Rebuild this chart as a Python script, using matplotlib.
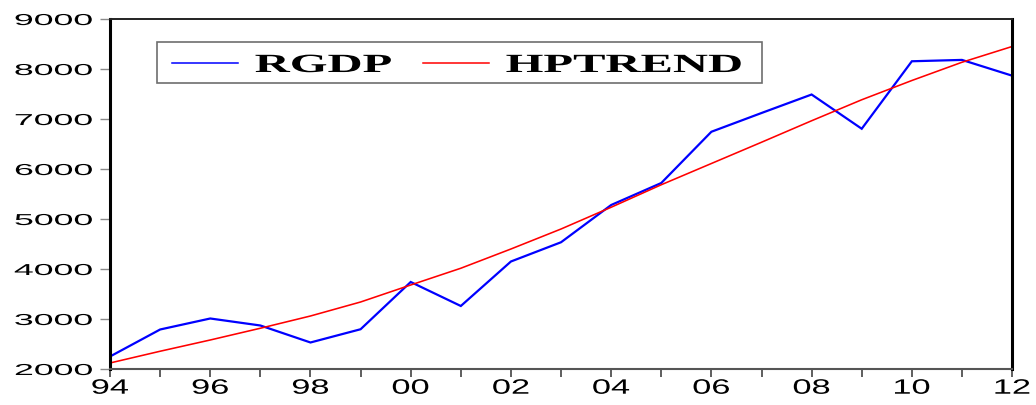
import matplotlib
matplotlib.use("Agg")
import matplotlib.pyplot as plt
from matplotlib.patheffects import AbstractPathEffect
from matplotlib.patches import Rectangle
from matplotlib.lines import Line2D
from matplotlib.path import Path
from matplotlib.transforms import Affine2D

# Real GDP and its Hodrick-Prescott trend, 1994-2012
years = list(range(1994, 2013))
rgdp = [2250, 2790, 3010, 2870, 2530, 2795, 3740, 3260, 4150, 4535,
        5280, 5720, 6745, 7120, 7490, 6805, 8155, 8182, 7867]
hptrend = [2120, 2355, 2580, 2815, 3060, 3340, 3680, 4015, 4400, 4800,
           5235, 5685, 6110, 6535, 6965, 7385, 7770, 8135, 8450]

year_ticks = list(range(1994, 2013, 2))
year_labels = [f"{y % 100:02d}" for y in year_ticks]
odd_years = list(range(1995, 2012, 2))
y_ticks = list(range(2000, 9001, 1000))
series_names = ["RGDP", "HPTREND"]


class Stretch(AbstractPathEffect):
    """Widen glyphs horizontally around the left, centre or right of the text."""

    def __init__(self, sx, anchor="left"):
        super().__init__()
        self.sx = sx
        self.anchor = anchor

    def draw_path(self, renderer, gc, tpath, affine, rgbFace=None):
        v = tpath.vertices
        if tpath.codes is not None:
            v = v[tpath.codes != Path.CLOSEPOLY]
        x0, x1 = v[:, 0].min(), v[:, 0].max()
        cx = {"left": x0, "center": (x0 + x1) / 2, "right": x1}[self.anchor]
        st = Affine2D().translate(-cx, 0).scale(self.sx, 1).translate(cx, 0)
        renderer.draw_path(gc, tpath, st + affine, rgbFace)


plt.rcParams["font.family"] = ["Liberation Sans", "DejaVu Sans"]

fig = plt.figure(figsize=(10.36, 4.06), dpi=100)
ax = fig.add_axes([0.1062, 0.0887, 0.8707, 0.862])

ax.plot(years, rgdp, color="#0000ff", lw=1.6, solid_joinstyle="miter")
ax.plot(years, hptrend, color="#ff0000", lw=1.15)

ax.set_xlim(1994, 2012)
ax.set_ylim(2000, 9000)

ax.set_xticks(year_ticks, year_labels)
ax.set_xticks(odd_years, minor=True)
ax.set_yticks(y_ticks, [str(v) for v in y_ticks])

ax.tick_params(axis="x", which="both", direction="out", length=5.5,
               width=1.1, color="#333333", labelsize=15, pad=1.5)
ax.tick_params(axis="y", direction="out", length=7.5, width=1.0,
               color="#8a8a8a", labelsize=11.4, pad=5)

for lbl in ax.get_xticklabels():
    lbl.set_path_effects([Stretch(1.65, "center")])
for lbl in ax.get_yticklabels():
    lbl.set_path_effects([Stretch(2.25, "right")])

ax.spines["left"].set_linewidth(2.2)
ax.spines["right"].set_linewidth(2.2)
ax.spines["top"].set_linewidth(1.4)
ax.spines["top"].set_color("#222222")
ax.spines["bottom"].set_linewidth(1.5)
ax.spines["bottom"].set_color("#555555")

# legend box drawn by hand so the widened labels fit inside it
ax.add_patch(Rectangle((0.0521, 0.8171), 0.6707, 0.1172, transform=ax.transAxes,
                       facecolor="white", edgecolor="#6e6e6e", lw=1.2, zorder=5))
handles = [(0.0687, 0.1419, "#0000ff", 0.1608), (0.347, 0.4202, "#ff0000", 0.4390)]
for (x0, x1, col, tx), name in zip(handles, series_names):
    ax.add_line(Line2D([x0, x1], [0.8743, 0.8743], transform=ax.transAxes,
                       color=col, lw=1.1, zorder=6))
    t = ax.text(tx, 0.8486, name, transform=ax.transAxes, ha="left", va="baseline",
                fontsize=18.9, fontweight="bold",
                family=["Liberation Serif", "DejaVu Serif"], zorder=6)
    t.set_path_effects([Stretch(1.85, "left")])

fig.savefig("out.png", dpi=100)
